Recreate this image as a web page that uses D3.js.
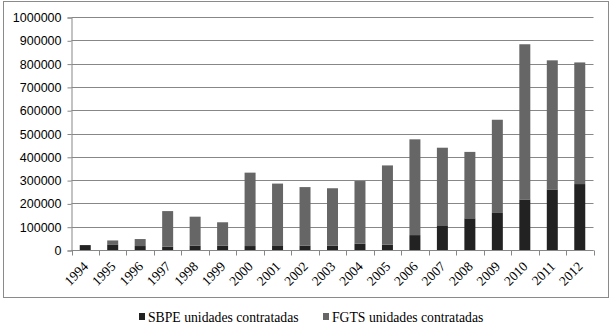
<!DOCTYPE html>
<html>
<head>
<meta charset="utf-8">
<script src="https://cdn.jsdelivr.net/npm/d3@7"></script>
<style>
  body { margin: 0; background: #fff; }
</style>
</head>
<body>
<svg id="chart" width="611" height="327"></svg>
<script>
// data
const years = ['1994', '1995', '1996', '1997', '1998', '1999', '2000', '2001', '2002', '2003',
    '2004', '2005', '2006', '2007', '2008', '2009', '2010', '2011', '2012'];
const sbpe = [21000, 24000, 17000, 14000, 19000, 19000, 17000, 20000, 19000, 19000,
    27000, 23000, 64000, 103000, 136000, 159000, 217000, 260000, 283000];
const fgts = [0, 17000, 30000, 153000, 124000, 100000, 315000, 265000, 251000, 246000,
    269000, 340000, 411000, 336000, 285000, 400000, 666000, 554000, 522000];
const yTicks = [0, 100000, 200000, 300000, 400000, 500000, 600000, 700000, 800000, 900000, 1000000];
const seriesNames = ['SBPE unidades contratadas', 'FGTS unidades contratadas'];

const colors = {
    sbpe: '#222222',
    fgts: '#666666',
    grid: '#878787',
    frame: '#8a8a8a',
    text: '#000000'
};
const serif = '"Liberation Serif", "Times New Roman", serif';

const svg = d3.select('#chart');

const plot = { left: 71.5, right: 593.5, top: 17, bottom: 250 };

// outer frame
svg.append('rect')
    .attr('x', 3.5).attr('y', 1.5)
    .attr('width', 605).attr('height', 296)
    .attr('fill', 'none')
    .attr('stroke', colors.frame);

const y = d3.scaleLinear().domain([0, 1000000]).range([plot.bottom, plot.top]);
const xCat = d3.scaleBand().domain(years).range([plot.left, plot.right]);
const x = d3.scaleBand().domain(years).range([plot.left, plot.right]).paddingInner(0.6).paddingOuter(0.3);

// gridlines
svg.append('g')
    .selectAll('line')
    .data(yTicks)
    .enter().append('line')
    .attr('x1', plot.left).attr('x2', plot.right)
    .attr('y1', d => Math.round(y(d)) + 0.5)
    .attr('y2', d => Math.round(y(d)) + 0.5)
    .attr('stroke', colors.grid);

// y axis
const yAxis = svg.append('g')
    .attr('transform', `translate(${plot.left},0.5)`)
    .call(d3.axisLeft(y).tickValues(yTicks).tickFormat(d3.format('d')).tickSize(4).tickPadding(6));
yAxis.select('.domain').attr('stroke', colors.grid);
yAxis.selectAll('.tick line').attr('stroke', colors.grid);
yAxis.selectAll('text')
    .style('font-family', '"Liberation Sans", Arial, sans-serif')
    .style('font-size', '12.5px')
    .attr('fill', colors.text);

// stacked bars
const stackData = years.map((yr, i) => ({ year: yr, sbpe: sbpe[i], fgts: fgts[i] }));
const stacked = d3.stack().keys(['sbpe', 'fgts'])(stackData);

svg.append('g')
    .selectAll('g')
    .data(stacked)
    .enter().append('g')
    .attr('fill', d => colors[d.key])
    .selectAll('rect')
    .data(d => d)
    .enter().append('rect')
    .attr('x', d => x(d.data.year))
    .attr('width', x.bandwidth())
    .attr('y', d => y(d[1]))
    .attr('height', d => y(d[0]) - y(d[1]));

// x axis: line + ticks at category boundaries
const xAxis = svg.append('g').attr('transform', `translate(0,${Math.round(plot.bottom) + 0.5})`);
xAxis.append('line')
    .attr('x1', plot.left).attr('x2', plot.right)
    .attr('stroke', colors.grid);
const bounds = years.map(d => xCat(d)).concat([xCat.range()[1]]);
xAxis.selectAll('.btick')
    .data(bounds)
    .enter().append('line')
    .attr('class', 'btick')
    .attr('x1', d => Math.round(d) + 0.5).attr('x2', d => Math.round(d) + 0.5)
    .attr('y1', 0).attr('y2', 5)
    .attr('stroke', colors.grid);

xAxis.selectAll('.xlabel')
    .data(years)
    .enter().append('text')
    .attr('class', 'xlabel')
    .attr('transform', d => `translate(${xCat(d) + xCat.bandwidth() / 2 - 3},${10}) rotate(-45)`)
    .attr('text-anchor', 'end')
    .attr('dy', '0.71em')
    .style('font-family', serif)
    .style('font-size', '13.5px')
    .attr('fill', colors.text)
    .text(d => d);

// legend
const legend = svg.append('g').attr('transform', 'translate(0,317)');
const legendX = [139, 323];
seriesNames.forEach((name, i) => {
    const lg = legend.append('g').attr('transform', `translate(${legendX[i]},0)`);
    lg.append('rect')
        .attr('x', 0).attr('y', -4)
        .attr('width', 6).attr('height', 7)
        .attr('fill', i === 0 ? colors.sbpe : colors.fgts);
    lg.append('text')
        .attr('x', 9).attr('y', 0)
        .attr('dy', '0.35em')
        .style('font-family', serif)
        .style('font-size', '13.7px')
        .attr('fill', colors.text)
        .text(name);
});
</script>
</body>
</html>
